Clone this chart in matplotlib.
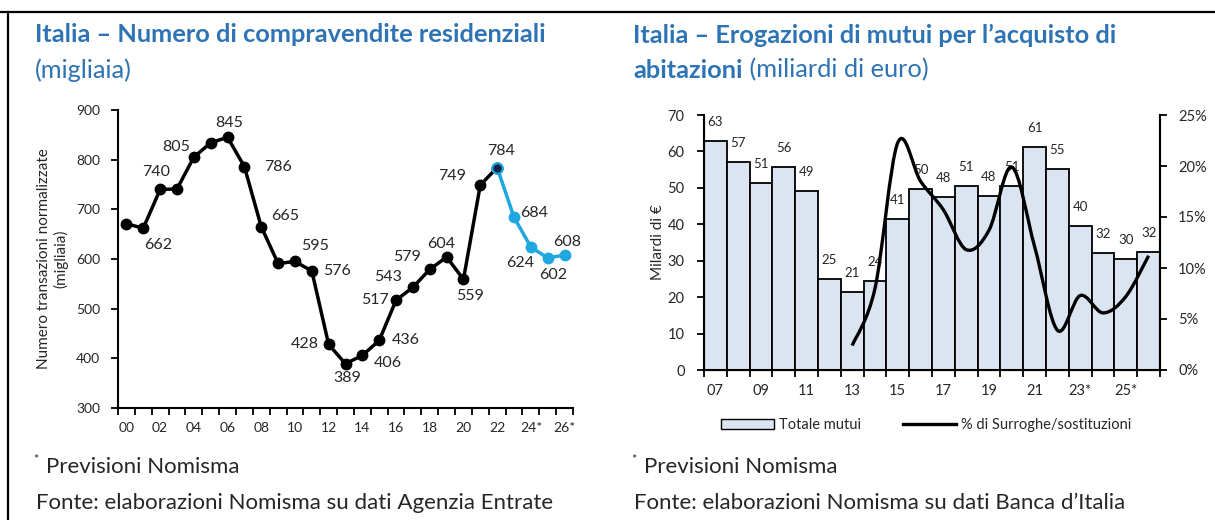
import matplotlib
matplotlib.use("Agg")
import matplotlib.pyplot as plt
from matplotlib.path import Path
from matplotlib.patches import PathPatch, Patch
from matplotlib.lines import Line2D
from matplotlib.ticker import FuncFormatter

plt.rcParams['font.family'] = ['Lato', 'DejaVu Sans']

# --- dati: compravendite residenziali (migliaia) ---
anni_compr = ['00', '01', '02', '03', '04', '05', '06', '07', '08', '09', '10', '11', '12', '13',
              '14', '15', '16', '17', '18', '19', '20', '21', '22', '23', '24', '25', '26']
compravendite = [671, 662, 740, 741, 805, 834, 845, 786, 665, 591, 595, 576, 428, 389,
                 406, 436, 517, 543, 579, 604, 559, 749, 784, 684, 624, 602, 608]
tick_compr = ['00', '02', '04', '06', '08', '10', '12', '14', '16', '18', '20', '22', '24*', '26*']
primo_previsto = '22'   # da qui la serie diventa azzurra

# --- dati: erogazioni mutui (miliardi) e % surroghe ---
anni_mutui = ['07', '08', '09', '10', '11', '12', '13', '14', '15', '16',
              '17', '18', '19', '20', '21', '22', '23', '24', '25', '26']
mutui = [63.0, 57.2, 51.3, 55.8, 49.2, 24.9, 21.3, 24.3, 41.4, 49.6,
         47.6, 50.6, 47.9, 50.6, 61.1, 55.2, 39.6, 32.2, 30.4, 32.3]
tick_mutui = ['07', '09', '11', '13', '15', '17', '19', '21', '23*', '25*']
anni_surroghe = ['13', '14', '15', '16', '17', '18', '19', '20', '21', '22', '23', '24', '25', '26']
surroghe = [2.4, 8.0, 22.3, 18.5, 15.7, 11.8, 13.7, 19.9, 12.1, 3.9, 7.3, 5.6, 7.2, 11.2]

# posizione delle etichette (pixel rispetto al punto), None = nessuna etichetta
offs_compr = [None, (15, -17), (-4, 17), None, (-18, 10), None, (2, 14), (34, 0), (24, 11), None,
              (20, 15), (25, 0), (-24, 0), (2, -14), (26, -8), (27, 0), (-21, 0), (-25, 10),
              (-23, 12), (-5, 13), (7, -17), (-28, 9), (4, 17), (20, 4), (-11, -16), (5, -17), (3, 13)]

TITLE_BLUE = '#2e74b5'
LINE_BLUE = '#1fa8e0'
BAR_COL = '#dbe5f1'
TXT = '#262626'
TITLE_SIZE = 18.3
NOTE_SIZE = 16

fig = plt.figure(figsize=(12.15, 5.2), dpi=100)

# cornice: linea in alto e a sinistra
fig.add_artist(Line2D([0, 1], [1 - 12 / 520, 1 - 12 / 520], transform=fig.transFigure, color='black', lw=1.6))
fig.add_artist(Line2D([8 / 1215, 8 / 1215], [0, 1 - 12 / 520], transform=fig.transFigure, color='black', lw=1.6))

# --- grafico sinistro ---
ax = fig.add_axes([118 / 1215, 1 - 408 / 520, 455 / 1215, 298 / 520])
x = list(range(len(anni_compr)))
k = anni_compr.index(primo_previsto)
ax.plot(x[k:], compravendite[k:], color=LINE_BLUE, lw=2.5, marker='o', ms=7.5, zorder=3)
ax.plot(x[:k + 1], compravendite[:k + 1], color='black', lw=2.5, marker='o', ms=7.5, zorder=4)
ax.plot(x[k], compravendite[k], marker='o', ms=7.5, mfc='#0b2545', mec=LINE_BLUE, mew=1.5, zorder=5)

for i, v in enumerate(compravendite):
    if offs_compr[i] is None:
        continue
    ax.annotate(str(v), (x[i], v), xytext=offs_compr[i], textcoords='offset pixels',
                ha='center', va='center', fontsize=11.5, color=TXT)

ax.set_xlim(-0.5, len(anni_compr) - 0.5)
ax.set_ylim(300, 900)
ax.set_yticks(range(300, 901, 100))
ax.set_xticks([anni_compr.index(t.rstrip('*')) for t in tick_compr])
ax.set_xticklabels(tick_compr)
ax.set_xticks([i + 0.5 for i in range(-1, len(anni_compr))], minor=True)
ax.tick_params(axis='x', which='major', length=0, pad=10, labelsize=10, labelcolor=TXT)
ax.tick_params(axis='x', which='minor', length=5, width=1.3, direction='out')
ax.tick_params(axis='y', length=5, width=1.3, pad=8, labelsize=10, labelcolor=TXT)
for s in ['top', 'right']:
    ax.spines[s].set_visible(False)
for s in ['left', 'bottom']:
    ax.spines[s].set_linewidth(1.5)
ax.set_ylabel('Numero transazioni normalizzate\n(migliaia)', fontsize=11, color=TXT, linespacing=1.2)
ax.yaxis.set_label_coords(-0.108, 0.5)

# --- grafico destro ---
bx = fig.add_axes([704 / 1215, 1 - 370 / 520, 456 / 1215, 255 / 520])
xb = list(range(len(anni_mutui)))
bx.bar(xb, mutui, width=1.0, color=BAR_COL, edgecolor='black', lw=1.3, zorder=2)
for i, v in enumerate(mutui):
    bx.annotate(f'{v:.0f}', (xb[i], v), xytext=(0, 19), textcoords='offset pixels',
                ha='center', va='center', fontsize=9.5, color=TXT)
bx.set_xlim(-0.5, len(anni_mutui) - 0.5)
bx.set_ylim(0, 70)
bx.set_yticks(range(0, 71, 10))
bx.set_xticks([anni_mutui.index(t.rstrip('*')) for t in tick_mutui])
bx.set_xticklabels(tick_mutui)
bx.set_xticks([i + 0.5 for i in range(-1, len(anni_mutui))], minor=True)
bx.tick_params(axis='x', which='major', length=0, pad=10, labelsize=10.5, labelcolor=TXT)
bx.tick_params(axis='x', which='minor', length=5, width=1.3, direction='out')
bx.tick_params(axis='y', length=5, width=1.3, pad=9, labelsize=10.5, labelcolor=TXT)
bx.spines['top'].set_visible(False)
for s in ['left', 'bottom', 'right']:
    bx.spines[s].set_linewidth(1.5)
bx.set_ylabel('Milardi di €', fontsize=11, color=TXT)
bx.yaxis.set_label_coords(-0.085, 0.5)

bx2 = bx.twinx()
bx2.set_ylim(0, 25)
bx2.set_yticks(range(0, 26, 5))
bx2.yaxis.set_major_formatter(FuncFormatter(lambda v, p: f'{v:.0f}%'))
bx2.tick_params(axis='y', length=5, width=1.3, pad=8, labelsize=10.5, labelcolor=TXT)
bx2.spines['top'].set_visible(False)
bx2.spines['right'].set_linewidth(1.5)

# linea smussata come in Excel (bezier tipo catmull-rom)
xs = [anni_mutui.index(a) for a in anni_surroghe]
ys = surroghe
verts = [(xs[0], ys[0])]
codes = [Path.MOVETO]
n = len(xs)
for i in range(n - 1):
    x0, y0 = xs[max(i - 1, 0)], ys[max(i - 1, 0)]
    x1, y1 = xs[i], ys[i]
    x2, y2 = xs[i + 1], ys[i + 1]
    x3, y3 = xs[min(i + 2, n - 1)], ys[min(i + 2, n - 1)]
    verts += [(x1 + (x2 - x0) / 6, y1 + (y2 - y0) / 6),
              (x2 - (x3 - x1) / 6, y2 - (y3 - y1) / 6),
              (x2, y2)]
    codes += [Path.CURVE4] * 3
bx2.add_patch(PathPatch(Path(verts, codes), facecolor='none', edgecolor='black', lw=2.4, zorder=3))

handles = [Patch(facecolor=BAR_COL, edgecolor='black', lw=1.0),
           Line2D([], [], color='black', lw=2.4)]
fig.legend(handles, ['Totale mutui', '% di Surroghe/sostituzioni'], loc='center',
           bbox_to_anchor=(926 / 1215, 1 - 425 / 520), ncol=2, frameon=False,
           fontsize=10.5, handlelength=3.6, handleheight=0.7, columnspacing=2.9,
           handletextpad=0.35, labelcolor=TXT)

# --- titoli ---
fig.text(35 / 1215, 1 - 35 / 520, 'Italia – Numero di compravendite residenziali', fontsize=TITLE_SIZE,
         fontweight='bold', color=TITLE_BLUE, va='center')
fig.text(35 / 1215, 1 - 70 / 520, '(migliaia)', fontsize=TITLE_SIZE, color=TITLE_BLUE, va='center')
fig.text(633 / 1215, 1 - 35 / 520, 'Italia – Erogazioni di mutui per l’acquisto di', fontsize=TITLE_SIZE,
         fontweight='bold', color=TITLE_BLUE, va='center')
t_ab = fig.text(633 / 1215, 1 - 70 / 520, 'abitazioni', fontsize=TITLE_SIZE, fontweight='bold',
                color=TITLE_BLUE, va='center')
fig.add_artist(matplotlib.text.Annotation(' (miliardi di euro)', xy=(1, 0), xycoords=t_ab,
                                          va='bottom', ha='left', fontsize=TITLE_SIZE,
                                          color=TITLE_BLUE, annotation_clip=False))

# --- note ---
for x0, fonte in [(33, 'Fonte: elaborazioni Nomisma su dati Agenzia Entrate'),
                  (631, 'Fonte: elaborazioni Nomisma su dati Banca d’Italia')]:
    fig.text(x0 / 1215, 1 - 460 / 520, '*', fontsize=9, color=TXT, va='center')
    fig.text((x0 + 13) / 1215, 1 - 467 / 520, 'Previsioni Nomisma', fontsize=NOTE_SIZE, color=TXT, va='center')
    fig.text((x0 + 3) / 1215, 1 - 503 / 520, fonte, fontsize=NOTE_SIZE, color=TXT, va='center')

fig.savefig('out.png', dpi=100)
